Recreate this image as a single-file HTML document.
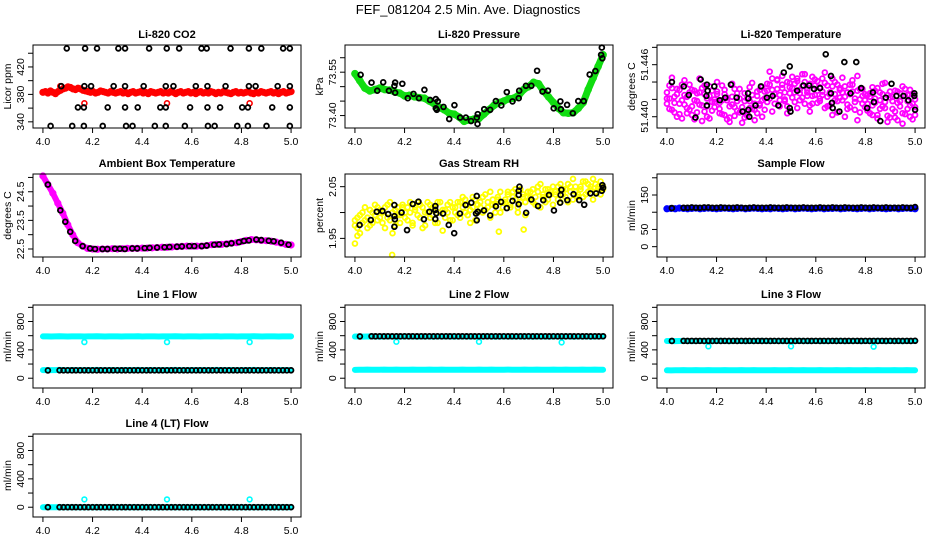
<!DOCTYPE html>
<html><head><meta charset="utf-8">
<style>
html,body{margin:0;padding:0;background:#fff;}
svg{display:block;font-family:"Liberation Sans",sans-serif;}
</style></head>
<body>
<svg id="chart" width="936" height="540" viewBox="0 0 936 540">
<text x="468" y="14" text-anchor="middle" font-size="13">FEF_081204  2.5 Min. Ave. Diagnostics</text>
</svg>
<script>
// ---- x tick data ----
const xTicks = [4.0, 4.2, 4.4, 4.6, 4.8, 5.0];
const xTickLabels = ["4.0","4.2","4.4","4.6","4.8","5.0"];

// ---- CO2 ----
const co2Red = [383,384,382,385,383,381,384,386,388,389,391,390,388,387,389,388,386,385,384,383,384,382,383,385,384,383,382,384,383,382,383,384,382,383,381,383,384,382,383,384,382,383,381,384,383,382,383,384,382,383,382,384,383,381,383,384,382,383,384,382,383,381,383,384,382,383,382,384,383,381,383,382,384,383,382,381,383,384,382,383,382,383,384,382,381,383,382,384,383,382,383,384,382,383,381,383,384,382,383,384];
const co2RedOutX = [4.07, 4.167, 4.5, 4.833];
const co2RedOutY = [392, 367, 367, 367];
const co2BlackX = [4.096,4.17,4.218,4.304,4.331,4.428,4.499,4.549,4.639,4.66,4.756,4.83,4.88,4.968,4.995,
 4.074,4.167,4.194,4.285,4.331,4.406,4.495,4.526,4.616,4.663,4.736,4.83,4.857,4.946,4.995,
 4.141,4.165,4.261,4.331,4.382,4.473,4.495,4.593,4.663,4.714,4.803,4.826,4.924,4.995,
 4.031,4.118,4.165,4.241,4.335,4.361,4.451,4.495,4.572,4.665,4.692,4.783,4.826,4.901,4.995];
const co2BlackY = [447,447,447,447,447,447,447,447,447,447,447,447,447,447,447,
 392,392,392,392,392,392,392,392,392,392,392,392,392,392,392,
 361,361,361,361,361,361,361,361,361,361,361,361,361,361,
 334,334,334,334,334,334,334,334,334,334,334,334,334,334,334];

// ---- Pressure ----
const presGreen = [73.545,73.52,73.495,73.485,73.49,73.495,73.49,73.488,73.482,73.478,73.468,73.47,73.465,73.462,73.46,73.45,73.44,73.428,73.42,73.408,73.405,73.395,73.38,73.385,73.388,73.39,73.405,73.42,73.435,73.445,73.45,73.458,73.46,73.47,73.49,73.5,73.515,73.51,73.485,73.465,73.445,73.425,73.41,73.408,73.41,73.425,73.445,73.49,73.53,73.57,73.61];
const presBlackX = [4.023,4.067,4.09,4.114,4.137,4.162,4.159,4.162,4.191,4.213,4.236,4.258,4.28,4.303,4.326,4.326,4.33,4.334,4.357,4.38,4.401,4.424,4.447,4.468,4.491,4.495,4.494,4.521,4.545,4.568,4.59,4.612,4.635,4.66,4.662,4.689,4.711,4.734,4.756,4.778,4.801,4.828,4.83,4.855,4.878,4.9,4.922,4.946,4.969,4.992,4.995,4.997];
const presBlackY = [73.541,73.514,73.486,73.515,73.486,73.514,73.503,73.479,73.51,73.46,73.475,73.46,73.489,73.454,73.457,73.425,73.42,73.449,73.43,73.388,73.436,73.393,73.393,73.381,73.393,73.405,73.371,73.422,73.42,73.45,73.435,73.481,73.449,73.46,73.486,73.503,73.503,73.555,73.483,73.486,73.425,73.449,73.422,73.437,73.408,73.45,73.45,73.542,73.554,73.61,73.635,73.598];

// ---- Li-820 Temperature ----
const tempMag = [51.4428,51.4421,51.4445,51.4405,51.4432,51.4415,51.4398,51.4425,51.4410,51.4437,
51.4402,51.4430,51.4418,51.4444,51.4395,51.4426,51.4412,51.4435,51.4407,51.4420,
51.4440,51.4416,51.4403,51.4431,51.4422,51.4399,51.4438,51.4411,51.4427,51.4405,
51.4393,51.4418,51.4401,51.4434,51.4409,51.4396,51.4424,51.4413,51.4400,51.4429,
51.4417,51.4437,51.4406,51.4426,51.4442,51.4412,51.4433,51.4420,51.4404,51.4439,
51.4446,51.4428,51.4441,51.4419,51.4435,51.4449,51.4424,51.4438,51.4415,51.4443,
51.4430,51.4421,51.4444,51.4410,51.4436,51.4426,51.4402,51.4440,51.4418,51.4433,
51.4445,51.4423,51.4414,51.4437,51.4429,51.4408,51.4447,51.4420,51.4432,51.4411,
51.4425,51.4404,51.4434,51.4416,51.4398,51.4428,51.4412,51.4439,51.4401,51.4422,
51.4409,51.4430,51.4396,51.4418,51.4435,51.4403,51.4425,51.4413,51.4397,51.4420];
const tempMag2 = [51.4415,51.4436,51.4408,51.4423,51.4400,51.4431,51.4419,51.4442,51.4404,51.4428,
51.4412,51.4397,51.4427,51.4414,51.4433,51.4406,51.4421,51.4398,51.4430,51.4417,
51.4426,51.4409,51.4436,51.4402,51.4419,51.4394,51.4414,51.4432,51.4407,51.4421,
51.4411,51.4427,51.4403,51.4418,51.4439,51.4408,51.4429,51.4415,51.4434,51.4421,
51.4438,51.4452,51.4431,51.4426,51.4443,51.4419,51.4437,51.4428,51.4412,51.4434,
51.4422,51.4438,51.4410,51.4427,51.4449,51.4415,51.4431,51.4406,51.4424,51.4436,
51.4441,51.4418,51.4429,51.4451,51.4423,51.4413,51.4435,51.4426,51.4405,51.4431,
51.4419,51.4400,51.4428,51.4411,51.4437,51.4421,51.4396,51.4432,51.4415,51.4426,
51.4407,51.4423,51.4413,51.4430,51.4402,51.4419,51.4438,51.4410,51.4425,51.4399,
51.4418,51.4406,51.4429,51.4412,51.4392,51.4424,51.4409,51.4431,51.4415,51.4402];
const tempMag3 = [51.4421,51.4409,51.4433,51.4416,51.4426,51.4403,51.4437,51.4414,51.4423,51.4408,
51.4431,51.4419,51.4405,51.4428,51.4413,51.4436,51.4400,51.4424,51.4417,51.4411,
51.4429,51.4404,51.4419,51.4426,51.4397,51.4412,51.4423,51.4401,51.4418,51.4432,
51.4406,51.4399,51.4421,51.4410,51.4425,51.4415,51.4404,51.4431,51.4419,51.4408,
51.4430,51.4421,51.4444,51.4415,51.4432,51.4425,51.4447,51.4418,51.4440,51.4427,
51.4433,51.4417,51.4444,51.4431,51.4422,51.4440,51.4428,51.4413,51.4446,51.4425,
51.4416,51.4434,51.4425,51.4439,51.4412,51.4428,51.4444,51.4419,51.4437,51.4422,
51.4428,51.4435,51.4409,51.4426,51.4442,51.4417,51.4430,51.4405,51.4424,51.4419,
51.4415,51.4427,51.4402,51.4421,51.4433,51.4409,51.4426,51.4417,51.4394,51.4429,
51.4423,51.4399,51.4416,51.4427,51.4404,51.4432,51.4418,51.4400,51.4426,51.4411];
const tempBlackX = [4.02,4.068,4.088,4.115,4.136,4.161,4.164,4.159,4.161,4.191,4.213,4.235,4.258,4.281,4.305,4.327,4.328,4.328,4.332,4.357,4.379,4.403,4.426,4.449,4.471,4.495,4.495,4.498,4.525,4.55,4.573,4.593,4.617,4.64,4.661,4.661,4.665,4.668,4.695,4.715,4.74,4.763,4.783,4.807,4.83,4.834,4.86,4.882,4.905,4.925,4.953,4.973,4.997,5.0,4.997];
const tempBlackY = [51.4440,51.4435,51.4425,51.4399,51.4443,51.4437,51.4430,51.4424,51.4413,51.4435,51.4419,51.4422,51.4437,51.4422,51.4406,51.4427,51.4421,51.4408,51.4400,51.4413,51.4435,51.4422,51.4424,51.4413,51.4451,51.4458,51.4410,51.4406,51.4430,51.4436,51.4436,51.4432,51.4433,51.4472,51.4447,51.4427,51.4416,51.4410,51.4406,51.4463,51.4427,51.4463,51.4433,51.4410,51.4428,51.4417,51.4395,51.4422,51.4438,51.4424,51.4424,51.4419,51.4427,51.4408,51.4424];

// ---- Ambient Box Temperature ----
const ambMag = [25.05,24.75,24.45,24.1,23.75,23.35,23.0,22.72,22.6,22.52,22.5,22.49,22.5,22.5,22.51,22.5,22.51,22.52,22.52,22.52,22.53,22.53,22.54,22.55,22.56,22.56,22.57,22.58,22.59,22.6,22.6,22.6,22.6,22.62,22.65,22.66,22.66,22.68,22.7,22.72,22.76,22.8,22.83,22.82,22.8,22.79,22.77,22.74,22.7,22.66,22.64];
const ambBlackX = [4.02,4.07,4.09,4.11,4.13,4.16,4.19,4.21,4.24,4.26,4.29,4.31,4.33,4.36,4.38,4.41,4.43,4.46,4.49,4.51,4.54,4.56,4.59,4.61,4.64,4.66,4.69,4.71,4.74,4.76,4.79,4.81,4.83,4.86,4.88,4.91,4.93,4.96,4.99];
const ambBlackY = [24.75,23.85,23.45,23.1,22.78,22.6,22.52,22.5,22.5,22.5,22.51,22.51,22.5,22.52,22.52,22.53,22.54,22.55,22.56,22.57,22.58,22.59,22.6,22.6,22.6,22.62,22.65,22.66,22.67,22.7,22.74,22.78,22.8,22.83,22.81,22.79,22.77,22.72,22.65];

// ---- Gas Stream RH ----
const rhYellow = [1.975,1.99,1.96,2.0,1.985,1.97,2.005,1.98,1.995,2.01,
1.99,2.0,1.97,2.015,1.985,1.96,2.005,1.995,1.98,2.01,
2.0,1.985,2.02,1.975,2.01,1.995,2.015,1.97,2.0,2.02,
1.99,2.01,1.98,2.02,2.0,1.965,2.005,2.015,1.985,2.01,
2.0,2.02,1.99,2.01,2.025,1.995,2.005,2.03,1.985,2.015,
2.02,2.0,2.035,2.01,1.99,2.025,2.015,2.03,2.0,2.02,
2.025,2.04,2.01,2.03,2.045,2.0,2.02,2.035,1.995,2.03,
2.04,2.02,2.03,2.05,2.01,2.035,2.045,2.025,2.04,2.015,
2.035,2.05,2.02,2.045,2.03,2.055,2.04,2.025,2.05,2.035,
2.045,2.03,2.06,2.04,2.05,2.025,2.055,2.045,2.035,2.05];
const rhYellow2 = [1.985,1.97,1.995,1.98,2.01,1.99,1.975,2.0,2.015,1.985,
2.005,1.98,2.01,1.99,2.02,2.0,1.975,2.01,1.995,2.015,
1.99,2.01,2.0,1.98,2.005,2.02,1.99,2.01,1.975,2.0,
2.015,1.995,2.01,1.98,2.02,2.005,1.99,2.0,2.02,1.985,
2.01,1.995,2.02,2.03,2.0,2.015,1.98,2.01,2.025,2.0,
2.01,2.03,2.005,2.02,2.04,2.015,2.0,2.025,2.04,2.01,
2.02,2.035,2.015,2.04,2.025,2.01,2.045,2.03,2.02,2.04,
2.03,2.045,2.015,2.04,2.055,2.03,2.02,2.045,2.035,2.05,
2.04,2.025,2.055,2.035,2.045,2.02,2.05,2.065,2.04,2.03,
2.05,2.06,2.035,2.055,2.045,2.065,2.04,2.05,2.06,2.045];
const rhOutX = [4.15, 4.0, 4.01, 4.58, 4.68];
const rhOutY = [1.918, 1.94, 1.955, 1.963, 1.967];
const rhBlackX = [4.019,4.064,4.088,4.111,4.134,4.159,4.159,4.161,4.159,4.188,4.21,4.233,4.256,4.278,4.3,4.324,4.324,4.328,4.324,4.355,4.378,4.4,4.423,4.446,4.469,4.491,4.488,4.495,4.491,4.52,4.545,4.568,4.589,4.612,4.635,4.663,4.66,4.66,4.66,4.69,4.711,4.738,4.759,4.782,4.802,4.827,4.829,4.832,4.856,4.881,4.904,4.924,4.949,4.972,4.995,4.997,5.0];
const rhBlackY = [1.976,1.9855,2.0015,2.003,1.997,1.993,2.0145,1.987,1.9725,2.0,1.966,2.0165,2.021,1.987,2.0015,2.0125,2.005,1.9985,1.9875,1.998,1.976,1.96,1.998,2.0145,2.019,2.032,1.998,2.0015,1.985,2.004,1.9945,2.012,2.0205,2.0085,2.0225,2.05,2.042,2.034,2.016,1.9995,2.025,2.0125,2.024,2.034,2.004,2.019,2.034,2.044,2.024,2.0355,2.024,2.015,2.037,2.037,2.042,2.053,2.048];

// ---- Flow panels: shared black-point times ----
const flowBlackX = [4.02,4.067,4.083,4.1,4.117,4.133,4.15,4.167,4.183,4.2,4.217,4.233,4.25,4.267,4.283,4.3,4.317,4.333,4.35,4.367,4.383,4.4,4.417,4.433,4.45,4.467,4.483,4.5,4.517,4.533,4.55,4.567,4.583,4.6,4.617,4.633,4.65,4.667,4.683,4.7,4.717,4.733,4.75,4.767,4.783,4.8,4.817,4.833,4.85,4.867,4.883,4.9,4.917,4.933,4.95,4.967,4.983,5.0];

// Sample flow
const sampleBlue = [110,111,110,112,111,110,111,112,110,111,112,111,110,111,112,111,110,111,112,110,111,112,111,110,111,110,112,111,110,111,112,110,111,112,111,110,111,112,110,111,111,112,110,111,112,111,110,111,112,110,111,112,111,110,111,112,110,111,112,111,110];
const sampleBlack = [112,113,113,114,113,113,114,114,113,113,114,113,113,113,114,113,112,113,114,113,113,113,114,113,113,113,114,113,113,113,114,113,113,113,114,113,113,114,113,113,114,113,113,113,114,113,113,114,113,113,114,113,113,113,114,113,113,115];

// Line 1 flow
const line1CyanHi = [590,591,589,590,592,590,589,591,590,590,589,591,590,592,590,589,590,591,590,589,591,590,590,592,589,590,591,590,589,590,591,590,592,590,589,590,591,590,589,591,590,590,592,589,590,591,590,589,590,591,590,592,590,589,590,591,590,589,591,590,590];
const line1CyanLo = [115,116,114,115,117,115,114,116,115,115,114,116,115,117,115,114,115,116,115,114,116,115,115,117,114,115,116,115,114,115,116,115,117,115,114,115,116,115,114,116,115,115,117,114,115,116,115,114,115,116,115,117,115,114,115,116,115,114,116,115,115];
const line1Black = [110,112,111,112,111,112,111,112,111,112,111,112,111,112,111,112,111,112,111,112,111,112,111,112,111,112,111,112,111,112,111,112,111,112,111,112,111,112,111,112,111,112,111,112,111,112,111,112,111,112,111,112,111,112,111,112,111,112];
const line1OutX = [4.167, 4.5, 4.833];
const line1OutY = [510, 510, 510];

// Line 2 flow
const line2CyanHi = [588,589,587,588,590,588,587,589,588,588,587,589,588,590,588,587,588,589,588,587,589,588,588,590,587,588,589,588,587,588,589,588,590,588,587,588,589,588,587,589,588,588,590,587,588,589,588,587,588,589,588,590,588,587,588,589,588,587,589,588,588];
const line2CyanLo = [118,120,119,121,120,119,120,121,119,120,121,120,119,120,121,120,119,120,121,119,120,121,120,119,120,119,121,120,119,120,121,119,120,121,120,119,120,121,119,120,120,121,119,120,121,120,119,120,121,119,120,121,120,119,120,121,119,120,121,120,119];
const line2Black = [590,592,591,592,591,592,591,592,591,592,591,592,591,592,591,592,591,592,591,592,591,592,591,592,591,592,591,592,591,592,591,592,591,592,591,592,591,592,591,592,591,592,591,592,591,592,591,592,591,592,591,592,591,592,591,592,591,592];
const line2OutX = [4.167, 4.5, 4.833];
const line2OutY = [515, 515, 505];

// Line 3 flow
const line3CyanHi = [525,526,524,525,527,525,524,526,525,525,524,526,525,527,525,524,525,526,525,524,526,525,525,527,524,525,526,525,524,525,526,525,527,525,524,525,526,525,524,526,525,525,527,524,525,526,525,524,525,526,525,527,525,524,525,526,525,524,526,525,525];
const line3CyanLo = [112,110,113,112,114,112,113,114,112,113,114,113,112,113,114,113,112,113,114,112,113,114,113,112,113,112,114,113,112,113,114,112,113,114,113,112,113,114,112,113,113,114,112,113,114,113,112,113,114,112,113,114,113,112,113,114,112,113,114,113,112];
const line3Black = [526,527,526,527,526,527,526,527,526,527,526,527,526,527,526,527,526,527,526,527,526,527,526,527,526,527,526,527,526,527,526,527,526,527,526,527,526,527,526,527,526,527,526,527,526,527,526,527,526,527,526,527,526,527,526,527,526,528];
const line3OutX = [4.167, 4.5, 4.833];
const line3OutY = [450, 450, 445];

// Line 4 flow
const line4Cyan = [0,1,0,0,1,0,0,1,0,0,1,0,0,1,0,0,1,0,0,1,0,0,1,0,0,1,0,0,1,0,0,1,0,0,1,0,0,1,0,0,1,0,0,1,0,0,1,0,0,1,0,0,1,0,0,1,0,0,1,0,0];
const line4Black = [0,1,0,1,0,1,0,1,0,1,0,1,0,1,0,1,0,1,0,1,0,1,0,1,0,1,0,1,0,1,0,1,0,1,0,1,0,1,0,1,0,1,0,1,0,1,0,1,0,1,0,1,0,1,0,1,0,1];
const line4OutX = [4.167, 4.5, 4.833];
const line4OutY = [110, 110, 110];

// ---- axis ticks ----
const co2Ticks=[340,360,380,400,420,440], co2Labels=["340","","380","","420",""];
const presTicks=[73.40,73.45,73.50,73.55,73.60], presLabels=["73.40","","","73.55",""];
const tempTicks=[51.440,51.442,51.444,51.446,51.448], tempLabels=["51.440","","","51.446",""];
const ambTicks=[22.5,23,23.5,24,24.5,25], ambLabels=["22.5","","23.5","","24.5",""];
const rhTicks=[1.95,2.0,2.05], rhLabels=["1.95","","2.05"];
const sfTicks=[0,50,100,150,200], sfLabels=["0","50","","150",""];
const lfTicks=[0,200,400,600,800,1000], lfLabels=["0","","400","","800",""];

const NS="http://www.w3.org/2000/svg";
const svg=document.getElementById('chart');
const X0=3.96, X1=5.04, BW=268, BH=83;
const rowY=[45,174,305,434];

function mk(tag, attrs, parent){
  const e=document.createElementNS(NS,tag);
  for(const k in attrs) e.setAttribute(k,attrs[k]);
  (parent||svg).appendChild(e);
  return e;
}
function seq(n){ const a=[]; for(let i=0;i<n;i++) a.push(4+i/(n-1)); return a; }

function makePanel(col,row,name,title,ylab,ymin,ymax,ticks,labels){
  const p={x0:33+312*col, y0:rowY[row], ymin, ymax};
  p.sx=v=>p.x0+(v-X0)/(X1-X0)*BW;
  p.sy=v=>p.y0+BH-(v-ymin)/(ymax-ymin)*BH;
  const g=mk('g',{});
  
  
  p.g=g;
  const t=mk('text',{x:p.x0+BW/2,y:p.y0-7,'text-anchor':'middle','font-size':'11','font-weight':'bold'},g);
  t.textContent=title;
  
  
  const yl=mk('text',{x:0,y:0,'text-anchor':'middle','font-size':'10.5',transform:`translate(${p.x0-22},${p.y0+BH/2}) rotate(-90)`},g);
  yl.textContent=ylab;
  
  
  const xa=mk('g',{},g);
  
  
  xTicks.forEach((v,i)=>{
    const x=p.sx(v);
    mk('line',{x1:x,x2:x,y1:p.y0+BH,y2:p.y0+BH+5,stroke:'#000','stroke-width':1},xa);
    const tl=mk('text',{x:x,y:p.y0+BH+17,'text-anchor':'middle','font-size':'10.5'},xa);
    tl.textContent=xTickLabels[i];
  });
  const ya=mk('g',{},g);
  
  
  ticks.forEach((v,i)=>{
    const y=p.sy(v);
    mk('line',{x1:p.x0-5,x2:p.x0,y1:y,y2:y,stroke:'#000','stroke-width':1},ya);
    if(labels[i]){
      const tl=mk('text',{x:0,y:0,'text-anchor':'middle','font-size':'10.5',transform:`translate(${p.x0-9},${y}) rotate(-90)`},ya);
      tl.textContent=labels[i];
    }
  });
  const pl=mk('g',{},g);
  
  
  p.pl=pl;
  p.box=function(){
    const r=mk('rect',{x:p.x0,y:p.y0,width:BW,height:BH,fill:'none',stroke:'#000','stroke-width':1},g);
    
    
  };
  return p;
}
// thick band drawn through the data points (dense overplotted series)
function band(p,xs,ys,color,w,sname){
  const d=ys.map((v,i)=>(i?'L':'M')+p.sx(xs[i]).toFixed(2)+','+p.sy(v).toFixed(2)).join('');
  const e=mk('path',{d:d,fill:'none',stroke:color,'stroke-width':w,'stroke-linejoin':'round','stroke-linecap':'round'},p.pl);
  
  
}
function pts(p,xs,ys,color,r,sw,sname){
  const g=mk('g',{fill:'none',stroke:color,'stroke-width':sw},p.pl);
  
  
  for(let i=0;i<ys.length;i++){
    const x=p.sx(xs[i]), y=p.sy(ys[i]);
    if(x<p.x0||x>p.x0+BW||y<p.y0||y>p.y0+BH) continue;
    const c=mk('circle',{cx:x.toFixed(2),cy:y.toFixed(2),r:r},g);
    
    
  }
}
const BLK=['#000',2.4,1.8];

// CO2
let p=makePanel(0,0,'co2','Li-820 CO2','Licor ppm',331,452,co2Ticks,co2Labels);
band(p,seq(co2Red.length),co2Red,'#ff0000',6,'co2-red-band');
pts(p,seq(co2Red.length),co2Red,'#ff0000',2.6,2,'co2-red-series');
pts(p,co2RedOutX,co2RedOutY,'#ff0000',2.5,1.6,'co2-red-outliers');
pts(p,co2BlackX,co2BlackY,...BLK,'co2-black-series'); p.box();

// Pressure
p=makePanel(1,0,'pressure','Li-820 Pressure','kPa',73.357,73.644,presTicks,presLabels);
band(p,seq(presGreen.length),presGreen,'#11dd11',7,'pressure-green-band');
pts(p,seq(presGreen.length),presGreen,'#11dd11',2.8,2,'pressure-green-series');
pts(p,presBlackX,presBlackY,...BLK,'pressure-black-series'); p.box();

// Temperature
p=makePanel(2,0,'li820-temp','Li-820 Temperature','degrees C',51.4387,51.44827,tempTicks,tempLabels);
pts(p,seq(tempMag.length),tempMag,'#ff00ff',2.4,1.8,'temp-magenta-series');
pts(p,seq(tempMag2.length),tempMag2,'#ff00ff',2.4,1.8,'temp-magenta-series-2');
pts(p,seq(tempMag3.length),tempMag3,'#ff00ff',2.4,1.8,'temp-magenta-series-3');
pts(p,tempBlackX,tempBlackY,...BLK,'temp-black-series'); p.box();

// Ambient
p=makePanel(0,1,'ambient','Ambient Box Temperature','degrees C',22.22,25.12,ambTicks,ambLabels);
band(p,seq(ambMag.length),ambMag,'#ff00ff',6,'ambient-magenta-band');
pts(p,seq(ambMag.length),ambMag,'#ff00ff',2.6,2,'ambient-magenta-series');
pts(p,ambBlackX,ambBlackY,...BLK,'ambient-black-series'); p.box();

// RH
p=makePanel(1,1,'rh','Gas Stream RH','percent',1.914,2.0745,rhTicks,rhLabels);
pts(p,seq(rhYellow.length),rhYellow,'#ffff00',2.4,1.8,'rh-yellow-series');
pts(p,seq(rhYellow2.length),rhYellow2,'#ffff00',2.4,1.8,'rh-yellow-series-2');
pts(p,rhOutX,rhOutY,'#ffff00',2.4,1.8,'rh-yellow-outliers');
pts(p,rhBlackX,rhBlackY,...BLK,'rh-black-series'); p.box();

// Sample flow
p=makePanel(2,1,'sample-flow','Sample Flow','ml/min',-30,211,sfTicks,sfLabels);
band(p,seq(sampleBlue.length),sampleBlue,'#0000ff',5,'sample-blue-band');
pts(p,seq(sampleBlue.length),sampleBlue,'#0000ff',2.6,2,'sample-blue-series');
pts(p,flowBlackX,sampleBlack,...BLK,'sample-black-series'); p.box();

// Line 1
p=makePanel(0,2,'line1','Line 1 Flow','ml/min',-138,1033,lfTicks,lfLabels);
band(p,seq(line1CyanHi.length),line1CyanHi,'#00ffff',6,'line1-cyan-high-band');
band(p,seq(line1CyanLo.length),line1CyanLo,'#00ffff',6,'line1-cyan-low-band');
pts(p,line1OutX,line1OutY,'#00ffff',2.4,1.6,'line1-cyan-outliers');
pts(p,flowBlackX,line1Black,...BLK,'line1-black-series'); p.box();

// Line 2
p=makePanel(1,2,'line2','Line 2 Flow','ml/min',-138,1033,lfTicks,lfLabels);
band(p,seq(line2CyanHi.length),line2CyanHi,'#00ffff',6,'line2-cyan-high-band');
band(p,seq(line2CyanLo.length),line2CyanLo,'#00ffff',6,'line2-cyan-low-band');
pts(p,line2OutX,line2OutY,'#00ffff',2.4,1.6,'line2-cyan-outliers');
pts(p,flowBlackX,line2Black,...BLK,'line2-black-series'); p.box();

// Line 3
p=makePanel(2,2,'line3','Line 3 Flow','ml/min',-138,1033,lfTicks,lfLabels);
band(p,seq(line3CyanHi.length),line3CyanHi,'#00ffff',6,'line3-cyan-high-band');
band(p,seq(line3CyanLo.length),line3CyanLo,'#00ffff',6,'line3-cyan-low-band');
pts(p,line3OutX,line3OutY,'#00ffff',2.4,1.6,'line3-cyan-outliers');
pts(p,flowBlackX,line3Black,...BLK,'line3-black-series'); p.box();

// Line 4
p=makePanel(0,3,'line4','Line 4 (LT) Flow','ml/min',-138,1033,lfTicks,lfLabels);
band(p,seq(line4Cyan.length),line4Cyan,'#00ffff',6,'line4-cyan-band');
pts(p,line4OutX,line4OutY,'#00ffff',2.4,1.6,'line4-cyan-outliers');
pts(p,flowBlackX,line4Black,...BLK,'line4-black-series'); p.box();
</script>
</body></html>
